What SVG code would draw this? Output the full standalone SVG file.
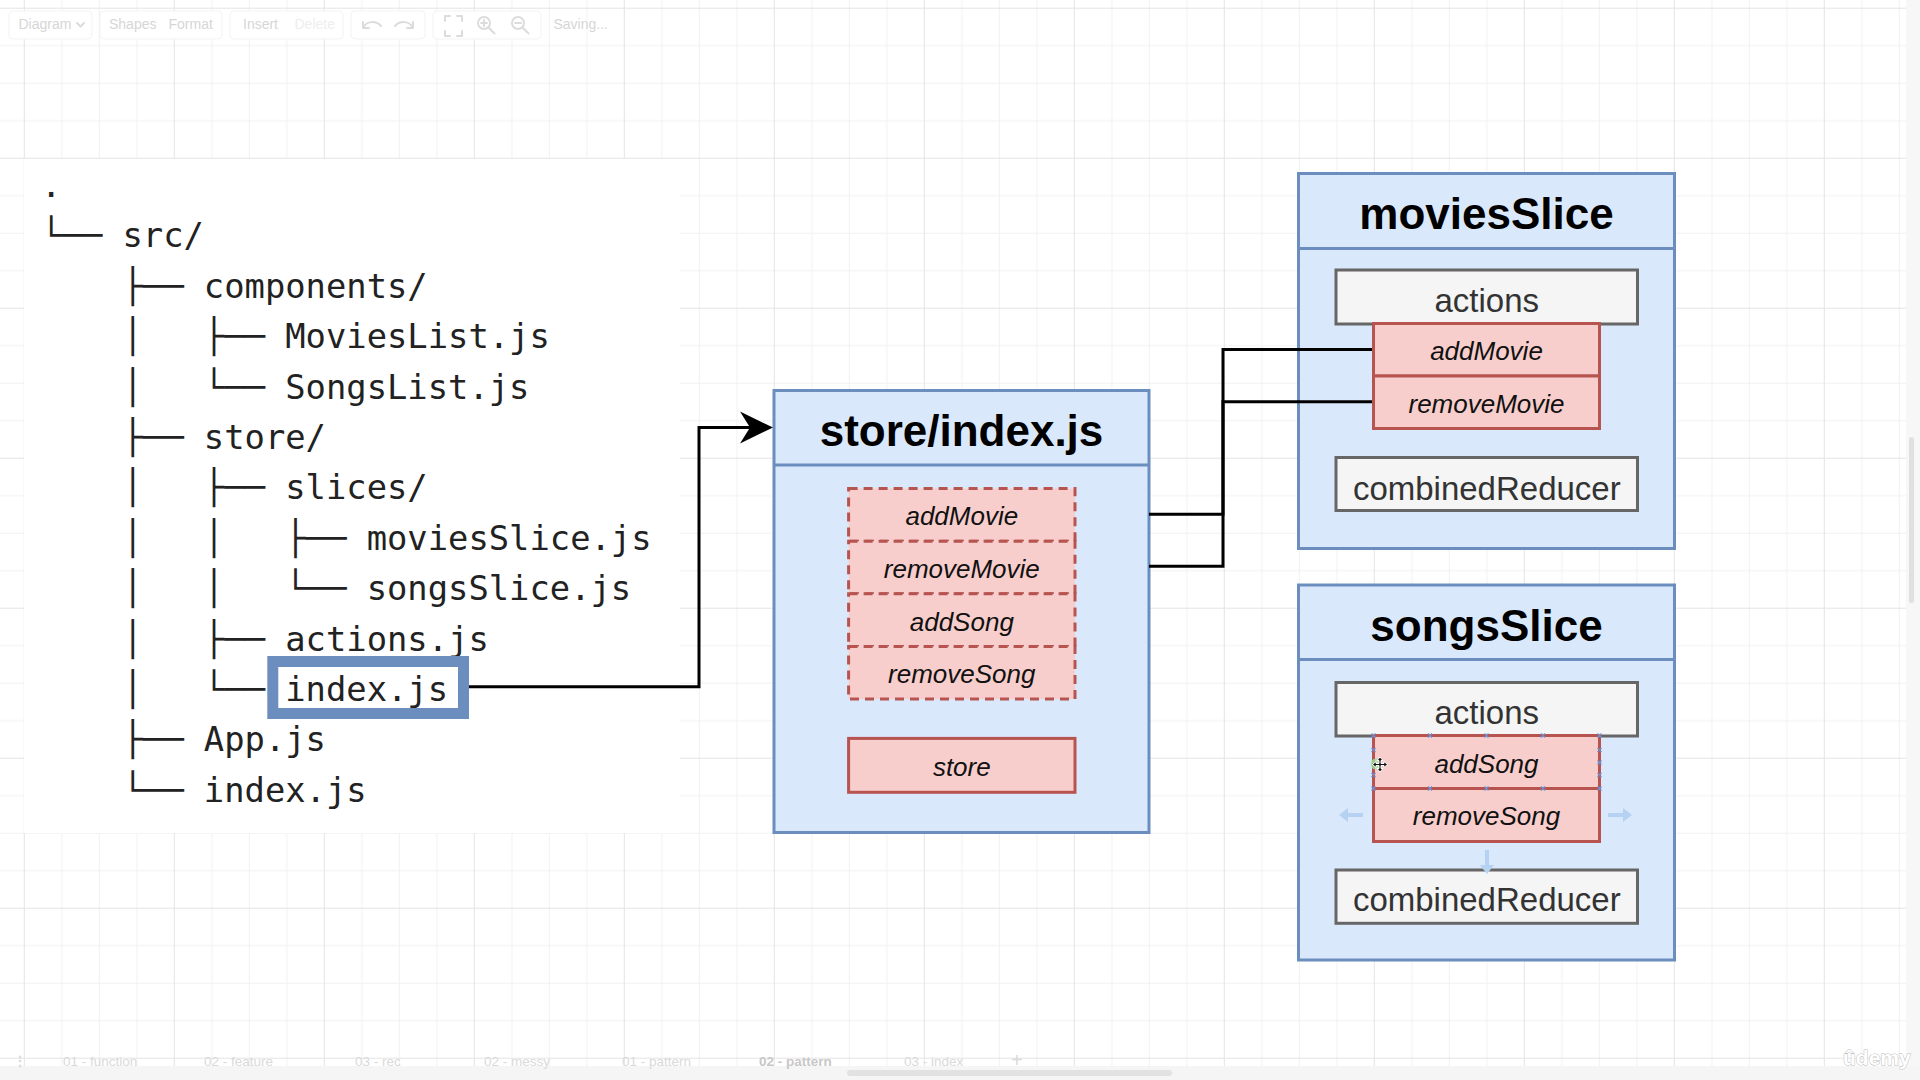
<svg xmlns="http://www.w3.org/2000/svg" width="1920" height="1080" viewBox="0 0 1920 1080">
<style>
.title{font-family:"Liberation Sans",Arial,sans-serif;font-weight:bold;font-size:44px;fill:#000;text-anchor:middle}
.lbl{font-family:"Liberation Sans",Arial,sans-serif;font-size:33px;fill:#333;text-anchor:middle}
.it{font-family:"Liberation Sans",Arial,sans-serif;font-style:italic;font-size:26px;fill:#111;text-anchor:middle}
.tree{font-family:"DejaVu Sans Mono","Liberation Mono",monospace;font-size:33.8px;fill:#222}
.ui{font-family:"Liberation Sans",Arial,sans-serif;font-size:14px;fill:#d6d6d6}
.tab{font-family:"Liberation Sans",Arial,sans-serif;font-size:13.5px;fill:#dadada}
.cont{fill:#dae8fc;stroke:#6c8ebf;stroke-width:3}
.gray{fill:#f5f5f5;stroke:#666;stroke-width:3}
.red{fill:#f8cecc;stroke:#b85450;stroke-width:3}
.dash{fill:#f8cecc;stroke:#b85450;stroke-width:3;stroke-dasharray:9 6}
.conn{fill:none;stroke:#000;stroke-width:3}
.icon{fill:none;stroke:#dcdcdc;stroke-width:2;stroke-linecap:round;stroke-linejoin:round}
.hnd{stroke:#6f8fd0;stroke-width:1.3}
.hint{fill:#b5d2f2}
</style>
<defs>
<pattern id="grid" x="23.8" y="7.7" width="150" height="150" patternUnits="userSpaceOnUse">
<path d="M38 0V150M75.5 0V150M113 0V150M0 38H150M0 75.5H150M0 113H150" stroke="#f1f1f1" stroke-width="1" fill="none"/>
<path d="M0.5 0V150M0 0.5H150" stroke="#e4e4e4" stroke-width="1" fill="none"/>
</pattern>
</defs>

<!-- canvas -->
<rect x="0" y="0" width="1920" height="1080" fill="#fff"/>
<rect x="0" y="0" width="1906" height="1066" fill="url(#grid)"/>
<rect x="1906" y="0" width="14" height="1080" fill="#f7f7f7"/>
<rect x="0" y="1066" width="1920" height="14" fill="#f5f5f5"/>
<rect x="1909" y="437" width="5" height="166" rx="2.5" fill="#e0e0e0"/>
<rect x="847" y="1070" width="325" height="6" rx="3" fill="#e2e2e2"/>

<!-- toolbar -->
<g id="toolbar">
<rect x="9" y="11" width="83" height="28" rx="4" fill="#fff" stroke="#f3f3f3"/>
<rect x="100" y="11" width="122" height="28" rx="4" fill="#fff" stroke="#f3f3f3"/>
<rect x="230" y="11" width="113" height="28" rx="4" fill="#fff" stroke="#f3f3f3"/>
<rect x="351" y="11" width="74" height="28" rx="4" fill="#fff" stroke="#f3f3f3"/>
<rect x="433" y="11" width="108" height="28" rx="4" fill="#fff" stroke="#f3f3f3"/>
<text class="ui" x="18.5" y="29">Diagram</text>
<path class="icon" d="M77 23l3.5 3.5 3.5-3.5" stroke-width="1.3"/>
<text class="ui" x="109" y="29">Shapes</text>
<text class="ui" x="168.5" y="29">Format</text>
<text class="ui" x="243" y="29">Insert</text>
<text class="ui" x="294.5" y="29" style="fill:#eeeeee">Delete</text>
<path class="icon" d="M363 28c3-7 13-8 18-2M363 22v6h6" />
<path class="icon" d="M413 28c-3-7-13-8-18-2M413 22v6h-6" stroke="#ececec"/>
<path class="icon" d="M445 21v-5h5M457 16h5v5M462 31v5h-5M450 36h-5v-5" stroke-width="1.6"/>
<circle class="icon" cx="484" cy="23" r="6" stroke-width="1.6"/>
<path class="icon" d="M488.5 27.5l6 6M481 23h6M484 20v6" stroke-width="1.6"/>
<circle class="icon" cx="518" cy="23" r="6" stroke-width="1.6"/>
<path class="icon" d="M522.5 27.5l6 6M515 23h6" stroke-width="1.6"/>
<text class="ui" x="553.5" y="29">Saving...</text>
</g>

<!-- tree panel -->
<g id="tree">
<rect x="24" y="159" width="656" height="674" fill="#fff"/>
<text class="tree" xml:space="preserve" x="41.1" y="196.9">.</text>
<text class="tree" xml:space="preserve" x="41.1" y="247.3">└── src/</text>
<text class="tree" xml:space="preserve" x="41.1" y="297.7">    ├── components/</text>
<text class="tree" xml:space="preserve" x="41.1" y="348.1">    │   ├── MoviesList.js</text>
<text class="tree" xml:space="preserve" x="41.1" y="398.5">    │   └── SongsList.js</text>
<text class="tree" xml:space="preserve" x="41.1" y="448.9">    ├── store/</text>
<text class="tree" xml:space="preserve" x="41.1" y="499.3">    │   ├── slices/</text>
<text class="tree" xml:space="preserve" x="41.1" y="549.7">    │   │   ├── moviesSlice.js</text>
<text class="tree" xml:space="preserve" x="41.1" y="600.1">    │   │   └── songsSlice.js</text>
<text class="tree" xml:space="preserve" x="41.1" y="650.5">    │   ├── actions.js</text>
<g id="highlight">
<rect x="272.8" y="661.5" width="190.7" height="52" fill="#fff" stroke="#6c8ebf" stroke-width="11"/>
</g>
<text class="tree" xml:space="preserve" x="41.1" y="700.9">    │   └── index.js</text>
<text class="tree" xml:space="preserve" x="41.1" y="751.3">    ├── App.js</text>
<text class="tree" xml:space="preserve" x="41.1" y="801.7">    └── index.js</text>
</g>

<!-- store/index.js -->
<g id="store">
<rect class="cont" x="774" y="390.5" width="375" height="442"/>
<line x1="774" y1="465" x2="1149" y2="465" stroke="#6c8ebf" stroke-width="3"/>
<text class="title" x="961.5" y="446">store/index.js</text>
<g id="store-actions">
<rect class="dash" x="848.6" y="488.6" width="226.4" height="52.6"/>
<rect class="dash" x="848.6" y="541.2" width="226.4" height="52.6"/>
<rect class="dash" x="848.6" y="593.8" width="226.4" height="52.6"/>
<rect class="dash" x="848.6" y="646.4" width="226.4" height="52.6"/>
<text class="it" x="961.8" y="525">addMovie</text>
<text class="it" x="961.8" y="578">removeMovie</text>
<text class="it" x="961.8" y="630.5">addSong</text>
<text class="it" x="961.8" y="683">removeSong</text>
</g>
<g id="store-store">
<rect class="red" x="848.6" y="738.4" width="226.4" height="53.9"/>
<text class="it" x="961.8" y="776">store</text>
</g>
</g>

<!-- moviesSlice -->
<g id="moviesSlice">
<rect class="cont" x="1298.5" y="173.5" width="376" height="375"/>
<line x1="1298.5" y1="248.5" x2="1674.5" y2="248.5" stroke="#6c8ebf" stroke-width="3"/>
<text class="title" x="1486.5" y="229">moviesSlice</text>
<rect class="gray" x="1336" y="270" width="301.5" height="54"/>
<text class="lbl" x="1486.8" y="311.5">actions</text>
<rect class="red" x="1373.5" y="323.5" width="226" height="52.5"/>
<rect class="red" x="1373.5" y="376" width="226" height="52.5"/>
<text class="it" x="1486.5" y="360">addMovie</text>
<text class="it" x="1486.5" y="412.5">removeMovie</text>
<rect class="gray" x="1336" y="457.5" width="301.5" height="53"/>
<text class="lbl" x="1486.8" y="499.5">combinedReducer</text>
</g>

<!-- songsSlice -->
<g id="songsSlice">
<rect class="cont" x="1298.5" y="585" width="376" height="375"/>
<line x1="1298.5" y1="659.5" x2="1674.5" y2="659.5" stroke="#6c8ebf" stroke-width="3"/>
<text class="title" x="1486.5" y="641">songsSlice</text>
<rect class="gray" x="1336" y="682.5" width="301.5" height="53.5"/>
<text class="lbl" x="1486.8" y="724">actions</text>
<rect class="red" x="1373.5" y="735.5" width="226" height="53"/>
<rect class="red" x="1373.5" y="788.5" width="226" height="53"/>
<text class="it" x="1486.5" y="772.5">addSong</text>
<text class="it" x="1486.5" y="825">removeSong</text>
<rect class="gray" x="1336" y="870" width="301.5" height="53.3"/>
<text class="lbl" x="1486.8" y="911">combinedReducer</text>
</g>

<!-- connectors -->
<g id="connectors">
<path class="conn" d="M469 686.7H699V427.5H752"/>
<polygon points="773,427.5 740,411.5 750,427.5 740,443.5" fill="#000"/>
<path class="conn" d="M1149 514.3H1223V349.5H1372"/>
<path class="conn" d="M1149 566.3H1223V401.7H1372"/>
</g>

<!-- hover hints on addSong -->
<g id="hover">
<path class="hnd" d="M1371.5 733.5l4 4m0-4l-4 4M1428 733.5l4 4m0-4l-4 4M1484.5 733.5l4 4m0-4l-4 4M1541 733.5l4 4m0-4l-4 4M1597.5 733.5l4 4m0-4l-4 4
M1371.5 786.5l4 4m0-4l-4 4M1428 786.5l4 4m0-4l-4 4M1484.5 786.5l4 4m0-4l-4 4M1541 786.5l4 4m0-4l-4 4M1597.5 786.5l4 4m0-4l-4 4
M1371.5 748l4 4m0-4l-4 4M1371.5 773l4 4m0-4l-4 4M1597.5 748l4 4m0-4l-4 4M1597.5 760.5l4 4m0-4l-4 4M1597.5 773l4 4m0-4l-4 4"/>
<circle cx="1376" cy="764" r="5.5" fill="#9ee29e" opacity="0.8"/>
<path d="M1380 757l3 3.5h-2v3h3v-2l3.5 3-3.5 3v-2h-3v3h2l-3 3.5-3-3.5h2v-3h-3v2l-3.5-3 3.5-3v2h3v-3h-2z" fill="#111" stroke="#fff" stroke-width="1"/>
<path class="hint" d="M1339 815l9-7v5h15v4h-15v5z"/>
<path class="hint" d="M1632 815l-9-7v5h-15v4h15v5z"/>
<path class="hint" d="M1487 874l-7-9h5v-15h4v15h5z"/>
</g>

<!-- page tabs -->
<g id="tabs">
<text class="tab" x="13" y="1066" style="font-weight:bold">⋮</text>
<text class="tab" x="63" y="1066">01 - function</text>
<text class="tab" x="204" y="1066">02 - feature</text>
<text class="tab" x="355" y="1066">03 - rec</text>
<text class="tab" x="484" y="1066">02 - messy</text>
<text class="tab" x="622" y="1066">01 - pattern</text>
<text class="tab" x="759" y="1066" style="font-weight:bold;fill:#c8c8c8">02 - pattern</text>
<text class="tab" x="904" y="1066">03 - index</text>
<text class="tab" x="1011" y="1067" style="font-size:20px">+</text>
</g>

<text x="1843" y="1065" style="font-family:'Liberation Sans',Arial,sans-serif;font-size:21px;font-weight:bold;fill:#fff;stroke:#bdbdbd;stroke-width:1;paint-order:stroke">ûdemy</text>
</svg>
